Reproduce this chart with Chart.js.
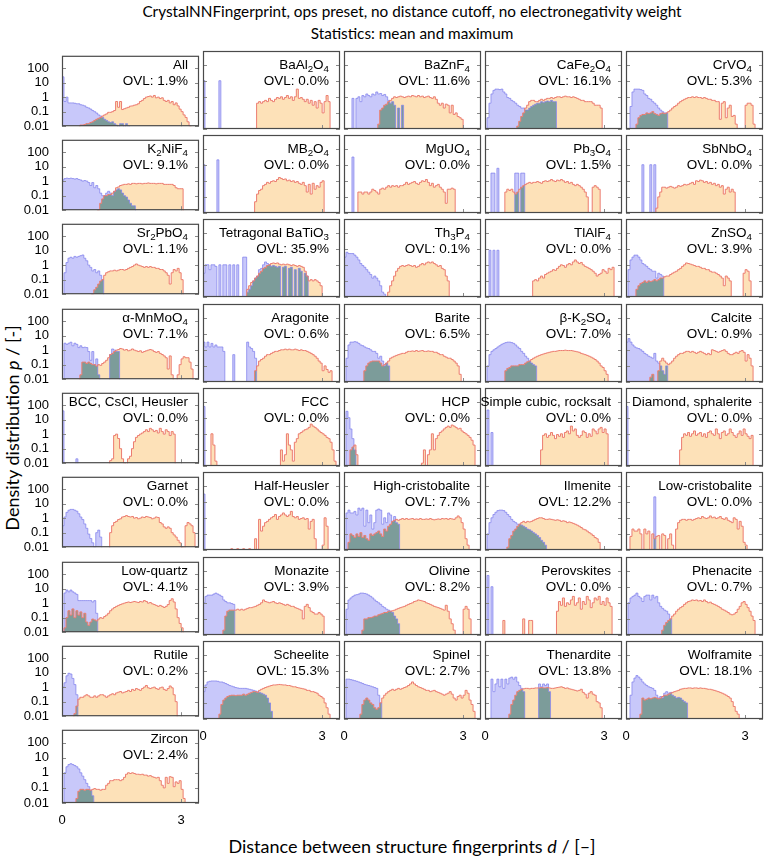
<!DOCTYPE html>
<html>
<head>
<meta charset="utf-8">
<script src="https://cdn.jsdelivr.net/npm/chart.js@4.4.1/dist/chart.umd.min.js"></script>
<style>
  body { margin: 0; background: #fff; }
  #page { position: relative; width: 765px; height: 856px; overflow: hidden; font-family: "Liberation Sans", Arial, sans-serif; }
  canvas { position: absolute; }
  .lbl { position: absolute; text-align: right; font-size: 13.5px; line-height: 16px; color: #000; white-space: nowrap; z-index: 5; }
  .lbl sub { font-size: 72%; vertical-align: -0.3em; line-height: 0; }
  #title1, #title2 { position: absolute; left: 412px; transform: translateX(-50%); white-space: nowrap; font-family: Lato, "Open Sans", sans-serif; font-size: 15.3px; color: #000; }
  #title1 { top: 2px; }
  #title2 { top: 24px; }
  #ylab { position: absolute; left: 12px; top: 428px; transform: translate(-50%, -50%) rotate(-90deg); white-space: nowrap; font-family: Lato, "Open Sans", sans-serif; font-size: 18px; }
  #xlab { position: absolute; left: 412px; top: 835px; transform: translateX(-50%); white-space: nowrap; font-family: Lato, "Open Sans", sans-serif; font-size: 18px; }
</style>
</head>
<body>
<div id="page">
  <div id="title1">CrystalNNFingerprint, ops preset, no distance cutoff, no electronegativity weight</div>
  <div id="title2">Statistics: mean and maximum</div>
  <div id="ylab">Density distribution <i>p</i> / [-]</div>
  <div id="xlab">Distance between structure fingerprints <i>d</i> / [–]</div>
</div>
<script>
// histogram bins are 0.05 wide, each series = start bin + values
const binWidth = 0.05;
const xMax = 3.45;
const yMin = 0.01;
const yMax = 700;
const xTicks = [0, 3];
const yTicks = [0.01, 0.1, 1, 10, 100];

const panelNames = [
  'All', 'BaAl<sub>2</sub>O<sub>4</sub>', 'BaZnF<sub>4</sub>', 'CaFe<sub>2</sub>O<sub>4</sub>', 'CrVO<sub>4</sub>',
  'K<sub>2</sub>NiF<sub>4</sub>', 'MB<sub>2</sub>O<sub>4</sub>', 'MgUO<sub>4</sub>', 'Pb<sub>3</sub>O<sub>4</sub>', 'SbNbO<sub>4</sub>',
  'Sr<sub>2</sub>PbO<sub>4</sub>', 'Tetragonal BaTiO<sub>3</sub>', 'Th<sub>3</sub>P<sub>4</sub>', 'TlAlF<sub>4</sub>', 'ZnSO<sub>4</sub>',
  'α-MnMoO<sub>4</sub>', 'Aragonite', 'Barite', 'β-K<sub>2</sub>SO<sub>4</sub>', 'Calcite',
  'BCC, CsCl, Heusler', 'FCC', 'HCP', 'Simple cubic, rocksalt', 'Diamond, sphalerite',
  'Garnet', 'Half-Heusler', 'High-cristobalite', 'Ilmenite', 'Low-cristobalite',
  'Low-quartz', 'Monazite', 'Olivine', 'Perovskites', 'Phenacite',
  'Rutile', 'Scheelite', 'Spinel', 'Thenardite', 'Wolframite',
  'Zircon'
];
const ovl = [1.9, 0.0, 11.6, 16.1, 5.3, 9.1, 0.0, 0.0, 1.5, 0.0,
  1.1, 35.9, 0.1, 0.0, 3.9, 7.1, 0.6, 6.5, 7.0, 0.9,
  0.0, 0.0, 0.0, 0.0, 0.0, 0.0, 0.0, 7.7, 12.2, 0.0,
  4.1, 3.9, 8.2, 0.0, 0.7, 0.2, 15.3, 2.7, 13.8, 18.1, 2.4];

const blueStart = [0, 0, 4, 1, 2, 0, 0, 4, 3, 8,
  1, 0, 0, 2, 1, 1, 0, 1, 1, 0,
  0, 0, 1, 1, 0, 0, 0, 1, 1, 14,
  1, 0, 1, 1, 1, 0, 0, 1, 3, 2, 1];
const orangeStart = [9, 27, 17, 16, 5, 18, 26, 7, 10, 15,
  15, 21, 21, 24, 4, 9, 26, 9, 10, 12,
  24, 4, 3, 28, 27, 24, 14, 2, 11, 2,
  1, 10, 9, 9, 17, 6, 8, 8, 12, 7, 7];

const bAll = [25, 0.5, 1.0, 0.4, 0.4, 0.4, 0.38, 0.35, 0.35, 0.3, 0.28, 0.25, 0.2, 0.18, 0.15, 0.12, 0.1, 0.08, 0.06, 0.05, 0.04, 0.03, 0.025, 0.02, 0.018, 0.02, 0.015, 0.012, 0, 0.015, 0.015, 0, 0.015, 0.01];
const oAll = [0.012, 0.012, 0.013, 0.015, 0.015, 0.018, 0.02, 0.025, 0.03, 0.035, 0.04, 0.05, 0.06, 0.07, 0.09, 0.09, 0.1, 0.12, 0.5, 0.2, 0.5, 0.14, 0.16, 0.18, 0.2, 0.24, 0.25, 0.28, 0.3, 0.35, 0.5, 0.6, 0.8, 1.0, 1.1, 1.2, 1.0, 1.3, 0.9, 1.0, 0.8, 0.9, 0.6, 0.5, 0.6, 0.4, 0.5, 0.3, 0.4, 0.25, 0.15, 0.1, 0.06, 0.04, 0.02, 0.01];
const bBaAl2O4 = [10, 0, 0, 0, 0, 0, 0, 0, 10];
const oBaAl2O4 = [0.4, 0.5, 0.4, 0.5, 0.6, 0.5, 0.8, 0.6, 0.5, 0.7, 0.9, 0.8, 1.0, 0.7, 0.9, 1.2, 0.8, 1.0, 0.6, 1.0, 3.0, 0.8, 0.9, 0.7, 0.5, 0.7, 0.4, 0.6, 0.3, 0.5, 0.2, 0.6, 0.4, 0.1, 0.5, 1.2, 0.5];
const bBaZnF4 = [0.8, 0, 0.8, 1.0, 0.5, 1.2, 1.0, 1.5, 1.2, 1.0, 1.5, 1.3, 2.0, 1.5, 1.6, 1.2, 1.4, 1.0, 0.6, 0.4, 0.5, 0.3, 0, 0.2, 0, 0.3];
const oBaZnF4 = [0.02, 0.15, 0.2, 0.3, 0.35, 0.5, 0.6, 0.8, 1.0, 0.9, 1.0, 1.1, 1.0, 0.9, 1.0, 1.1, 1.0, 1.2, 1.1, 1.0, 1.2, 1.0, 1.1, 0.9, 1.0, 1.1, 0.9, 0.8, 1.0, 0.7, 0.4, 0.3, 0.4, 0.2, 0.35, 0.3, 0.1, 0.3, 0.08, 0.1, 0.06, 0.05, 0.04];
const bCaFe2O4 = [0.05, 0.4, 1.5, 2.5, 3, 3, 2.8, 3, 2, 1.5, 0.9, 0.8, 0.6, 0.5, 0.4, 0.3, 0.25, 0.2, 0.2, 0.15, 0.15, 0.2, 0.25, 0.3, 0.35, 0.4, 0.4, 0.5, 0.45, 0.5, 0.55, 0.5, 0.6, 0.5, 0.5];
const oCaFe2O4 = [0.015, 0.03, 0.06, 0.1, 0.2, 0.3, 0.5, 0.6, 0.6, 0.5, 0.5, 0.6, 0.7, 0.6, 0.7, 0.8, 0.8, 0.9, 0.8, 0.9, 1.0, 1.0, 0.9, 1.0, 1.1, 1.0, 1.0, 0.9, 1.0, 0.9, 0.8, 0.7, 0.6, 0.6, 0.5, 0.5, 0.5, 0.5, 0.4, 0.3, 0.3, 0.3, 0.2, 0.01];
const bCrVO4 = [0.25, 2, 3, 3, 3, 2.8, 2.5, 1.5, 1.2, 0.8, 0.7, 0.5, 0.4, 0.3, 0.2, 0.15, 0.12, 0.1, 0.1];
const oCrVO4 = [0.02, 0.05, 0.07, 0.08, 0.08, 0.1, 0.09, 0.1, 0.12, 0.09, 0.08, 0.07, 0.09, 0.1, 0.09, 0.1, 0.12, 0.15, 0.2, 0.25, 0.3, 0.4, 0.5, 0.6, 0.7, 0.8, 0.9, 0.9, 1.0, 0.9, 1.0, 0.9, 0.9, 0.8, 0.9, 0.8, 0.7, 0.7, 0.6, 0.6, 0.5, 0.5, 0.04, 0.4, 0.5, 0.05, 0.2, 0.3, 0.06, 0.07, 0.02, 0, 0, 0, 0, 0.3, 0.4, 0.4, 0.3, 0.02];
const bK2NiF4 = [1.2, 1.5, 1.6, 1.5, 1.6, 1.5, 1.4, 1.5, 1.3, 1.2, 1.0, 1.1, 1.0, 0.8, 0.5, 0.8, 0.35, 0.5, 0.3, 0.15, 0.1, 0.1, 0.15, 0.2, 0.15, 0.1, 0.2, 0.25, 0.3, 0.25, 0.15, 0.1, 0.08, 0.05, 0.03, 0.02, 0.02];
const oK2NiF4 = [0.01, 0.03, 0.06, 0.1, 0.1, 0.12, 0.12, 0.15, 0.2, 0.35, 0.4, 0.5, 0.55, 0.6, 0.6, 0.65, 0.6, 0.7, 0.7, 0.65, 0.7, 0.7, 0.65, 0.7, 0.7, 0.75, 0.7, 0.7, 0.7, 0.65, 0.7, 0.7, 0.7, 0.6, 0.6, 0.6, 0.6, 0.6, 0.5, 0.35, 0.3, 0.3, 0.3];
const bMB2O4 = [10, 0, 0, 0, 0, 0, 0, 20];
const oMB2O4 = [0.05, 0.15, 0.25, 0.3, 0.5, 0.6, 0.8, 0.7, 0.9, 1.0, 0.9, 1.2, 1.6, 1.4, 1.2, 1.3, 1.0, 1.1, 0.9, 1.0, 0.8, 0.9, 0.7, 0.6, 0.8, 0.5, 0.2, 0.6, 0.15, 0.7, 0.3, 0.5, 0.4, 0.8, 1.0];
const bMgUO4 = [30];
const oMgUO4 = [0.2, 0.2, 0.15, 0.2, 0.2, 0.15, 0.2, 0.3, 0.25, 0.2, 0.15, 0.3, 0.35, 0.3, 0.4, 0.5, 0.4, 0.5, 0.45, 0.5, 0.4, 0.5, 0.5, 0.6, 0.8, 0.6, 0.7, 0.8, 0.9, 0.7, 0.6, 0.8, 1.0, 0.9, 1.2, 0.8, 0.5, 0.7, 0.4, 0.5, 0.6, 0.4, 0.3, 0.2, 0.04, 0.3, 0.3, 0.35, 0.3];
const bPb3O4 = [3, 3, 0, 6, 0, 0, 0, 0, 0, 0, 0, 0, 3, 3, 0, 3, 3];
const oPb3O4 = [0.2, 0.3, 0.25, 0.3, 0.2, 0.15, 0.2, 0.3, 0.4, 0.5, 0.6, 0.7, 0.8, 0.7, 0.8, 0.8, 0.9, 0.8, 0.7, 0.9, 1.0, 0.9, 1.0, 1.2, 1.0, 0.9, 1.1, 1.0, 1.2, 1.0, 0.8, 0.9, 0.7, 0.8, 0.6, 0.5, 0.6, 0.5, 0.4, 0.3, 0.2, 0.1, 0, 0, 0.4, 0.5, 0.4, 0.3];
const bSbNbO4 = [10, 0, 0, 0, 10, 0, 10];
const oSbNbO4 = [0.02, 0.1, 0.2, 0.4, 0.4, 0.35, 0.4, 0.45, 0.4, 0.35, 0.4, 0.5, 0.45, 0.5, 0.6, 0.55, 0.6, 0.7, 0.8, 0.6, 1.0, 0.9, 1.1, 1.0, 0.8, 0.9, 0.7, 0.8, 0.6, 0.7, 0.5, 0.6, 0.4, 0.5, 0.15, 0.3, 0.4, 0.2, 0.3, 0.2];
const bSr2PbO4 = [0.3, 1.5, 3, 3.5, 3, 4, 3.5, 4, 4.5, 5, 3, 2, 1, 0.7, 0.4, 0.5, 0.3, 0.4, 0.2, 0.1];
const oSr2PbO4 = [0.01, 0.02, 0.03, 0.05, 0.08, 0.1, 0.2, 0.3, 0.35, 0.4, 0.4, 0.45, 0.4, 0.45, 0.5, 0.5, 0.45, 0.5, 0.6, 0.7, 0.8, 1.0, 1.2, 1.0, 0.9, 0.8, 0.7, 0.8, 0.7, 0.8, 0.7, 0.7, 0.6, 0.6, 0.5, 0.5, 0.4, 0.3, 0.2, 0.05, 0.3, 0.5, 0.4, 0.6, 0.3, 0.1];
const bBaTiO3 = [0.3, 1, 1, 0.5, 1, 1, 0.8, 0, 1, 0, 1, 1, 0, 1, 0, 1, 0, 1, 0, 0, 3, 3, 0.02, 0.03, 0.05, 0.1, 0.15, 0.2, 0.5, 0.6, 1.0, 1.5, 1.2, 1.0, 0.8, 0.9, 0.8, 0.7, 0.8, 0, 0.7, 0.8, 0, 0.6, 0.7, 0, 0.5, 0, 0.6, 0.4, 0, 0.3, 0.2];
const oBaTiO3 = [0.01, 0.03, 0.05, 0.08, 0.1, 0.15, 0.2, 0.3, 0.4, 0.6, 0.7, 0.9, 1.0, 1.2, 1.3, 1.2, 1.3, 1.1, 1.0, 1.1, 1.0, 1.1, 1.0, 0.9, 1.0, 0.9, 0.8, 0.9, 0.8, 0.7, 0.4, 0.2, 0.1, 0.12, 0.1, 0.12, 0.1, 0.08, 0.05];
const bTh3P4 = [3, 6, 5, 5, 5, 4, 3, 2, 1.2, 0.9, 0.7, 0.5, 0.35, 0.25, 0.15, 0.2, 0.15, 0.1, 0.05, 0.02, 0.015, 0.01];
const oTh3P4 = [0.01, 0.02, 0.05, 0.1, 0.2, 0.4, 0.6, 0.8, 0.9, 0.8, 0.9, 1.0, 0.9, 0.8, 0.9, 0.7, 0.8, 1.0, 1.2, 1.0, 1.3, 1.5, 1.3, 1.5, 1.2, 1.0, 0.8, 0.9, 0.6, 0.5, 0.2, 0.1];
const bTlAlF4 = [8, 0, 8, 0, 8];
const oTlAlF4 = [0.1, 0.12, 0.1, 0.15, 0.2, 0.15, 0.25, 0.3, 0.35, 0.4, 0.5, 0.45, 0.6, 0.8, 1.0, 0.9, 0.7, 1.0, 1.2, 1.0, 1.5, 2.0, 1.5, 1.2, 1.4, 1.0, 0.8, 0.7, 0.6, 0.5, 0.4, 0.3, 0.2, 0.25, 0.3, 0.5, 0.4, 0.3, 0.6, 0.5, 0.7];
const bZnSO4 = [0.5, 2, 3, 4, 4, 3, 2, 1.2, 1, 0.8, 0.6, 0.5, 0.4, 0.4, 0.15, 0.3, 0.25, 0.2];
const oZnSO4 = [0.01, 0.03, 0.05, 0.07, 0.08, 0.1, 0.08, 0.1, 0.09, 0.1, 0.12, 0.1, 0.12, 0.15, 0.15, 0.18, 0.2, 0.2, 0.25, 0.3, 0.35, 0.4, 0.5, 0.6, 0.8, 1.0, 1.3, 1.2, 1.1, 1.0, 0.9, 0.8, 0.8, 0.7, 0.6, 0.6, 0.5, 0.5, 0.4, 0.35, 0.35, 0.3, 0.25, 0.2, 0.15, 0.05, 0.2, 0.15, 0.1, 0.01, 0, 0, 0, 0, 0, 0.3, 0.5, 0.4, 0.1];
const bMnMoO4 = [3, 2.5, 3, 3.5, 2, 3, 2.5, 1.5, 2, 1.5, 1.6, 1.5, 0.8, 0.2, 0.8, 0.1, 0.25, 0.02, 0, 0, 0, 0, 0, 0.5, 1.2, 1.0, 0.8, 0.8];
const oMnMoO4 = [0.02, 0.15, 0.15, 0.12, 0.15, 0.12, 0.1, 0.1, 0.08, 0.1, 0.09, 0.12, 0.15, 0.2, 0.3, 0.5, 0.6, 0.8, 1.0, 1.1, 1.3, 1.2, 1.0, 1.1, 0.9, 1.0, 1.2, 1.0, 0.9, 0.8, 0.9, 0.7, 0.8, 0.9, 1.0, 1.1, 1.0, 0.8, 0.7, 0.8, 0.6, 0.5, 0.4, 0.3, 0.05, 0.4, 0.02, 0, 0, 0.02, 0.1, 0.25, 0.35, 0.3, 0.3, 0.15, 0.05];
const bAragonite = [3, 1.5, 3, 1.5, 2.5, 1.5, 2, 1.5, 1.5, 1.5, 0.8, 0, 0, 0, 0, 0.5, 0, 0, 0, 0, 0, 0, 3, 1.5, 1.2, 0.8, 0.3];
const oAragonite = [0.05, 0.1, 0.2, 0.25, 0.3, 0.4, 0.5, 0.5, 0.6, 0.7, 0.8, 0.8, 0.9, 1.0, 1.0, 1.1, 1.0, 1.1, 1.0, 1.0, 1.1, 1.0, 0.9, 1.0, 0.9, 0.9, 0.8, 0.7, 0.6, 0.5, 0.4, 0.3, 0.2, 0.15, 0.05, 0.1, 0.06, 0.04, 0.05];
const bBarite = [0.3, 2, 3, 3, 3.2, 3, 2.5, 2, 1.8, 1.5, 1.3, 1.2, 1.0, 0.8, 0.8, 0.6, 0.3, 0.4, 0.2, 0.1, 0.15, 0.1];
const oBarite = [0.01, 0.05, 0.1, 0.15, 0.18, 0.2, 0.2, 0.2, 0.2, 0.15, 0.1, 0.12, 0.15, 0.2, 0.3, 0.35, 0.4, 0.45, 0.5, 0.55, 0.6, 0.6, 0.7, 0.8, 0.8, 0.85, 0.8, 0.9, 0.8, 0.85, 0.9, 0.8, 0.8, 0.85, 0.8, 0.8, 0.7, 0.7, 0.6, 0.5, 0.5, 0.4, 0.35, 0.3, 0.3, 0.25, 0.2, 0.15, 0.1, 0.03];
const bK2SO4 = [0.1, 0.5, 0.8, 1.0, 1.2, 1.5, 1.8, 2.2, 2.5, 2.8, 3, 3, 2.8, 2.5, 2, 1.5, 1.2, 0.8, 0.6, 0.4, 0.3, 0.2, 0.15, 0.12, 0.1];
const oK2SO4 = [0.05, 0.07, 0.08, 0.1, 0.1, 0.1, 0.1, 0.12, 0.12, 0.12, 0.15, 0.18, 0.2, 0.25, 0.3, 0.35, 0.4, 0.45, 0.5, 0.55, 0.6, 0.65, 0.7, 0.75, 0.8, 0.8, 0.85, 0.9, 0.9, 0.9, 0.95, 0.9, 0.9, 0.9, 0.85, 0.8, 0.75, 0.7, 0.6, 0.55, 0.5, 0.45, 0.4, 0.35, 0.3, 0.25, 0.2, 0.15, 0.1, 0.08, 0.05, 0.03];
const bCalcite = [3, 5, 3, 2, 1.5, 1.3, 1.2, 1.0, 0.8, 0.6, 0.5, 0.4, 0.35, 0.3, 0.6, 0.2, 0.15, 0.1, 0.05, 0.03, 0.1];
const oCalcite = [0.02, 0.03, 0.01, 0, 0.05, 0.2, 0.3, 0.2, 0.15, 0.12, 0.15, 0.2, 0.3, 0.4, 0.5, 0.6, 0.6, 0.7, 0.8, 0.8, 0.7, 0.8, 0.7, 0.6, 0.7, 0.8, 0.7, 0.6, 0.5, 0.6, 0.5, 1.0, 0.9, 0.8, 0.7, 0.8, 0.9, 1.0, 0.8, 0.6, 0.5, 0.5, 0.6, 0.7, 0.6, 0.8, 0.9, 0.7, 0.2, 0.5, 0.3, 0.1];
const bBCC = [40, 0, 0, 0, 0, 0, 0, 0.02];
const oBCC = [0.015, 0.02, 0.8, 1.0, 0.5, 0.1, 0.02, 0.01, 0, 0.02, 0.03, 0.1, 0.3, 0.6, 0.8, 1.0, 1.2, 1.5, 2.0, 1.5, 2.5, 2.0, 1.5, 1.8, 1.2, 2.5, 1.5, 1.0, 2.0, 1.5, 0.8, 1.5, 1.0];
const bFCC = [50];
const oFCC = [1.0, 0.2, 0.02, 0, 0, 0, 0, 0, 0, 0, 0, 0, 0, 0, 0, 0, 0, 0, 0, 0, 0, 0, 0, 0, 0, 0, 0, 0, 0, 0, 0, 0, 0, 0, 0,
  0.1, 0.02, 0.05, 1.0, 0.2, 0.1, 0.02, 0.3, 0.5, 1.0, 1.2, 1.5, 1.8, 2, 2.5, 4, 3, 2.5, 2, 1.5, 1.2, 1.0, 0.8, 0.6, 0.5, 0.3, 0.1, 0.02];
const bHCP = [25, 10, 2, 0.5, 0.1];
const oHCP = [0.1, 0.15, 0.2, 0.05, 0, 0, 0, 0, 0, 0, 0, 0, 0, 0, 0, 0, 0, 0, 0, 0, 0, 0, 0, 0, 0, 0, 0, 0, 0, 0, 0, 0, 0, 0, 0, 0,
  0.015, 0.1, 0.01, 0.05, 0.1, 1.0, 0.1, 0.5, 0.8, 1.2, 1.5, 2.0, 2.5, 3.0, 2.5, 3.5, 3.0, 2.5, 2.0, 2.2, 1.5, 1.2, 1.0, 0.8, 0.6, 0.4, 0.2];
const bSC = [30, 0, 1.2];
const oSC = [0.1, 0.8, 1.0, 0.6, 0.8, 1.2, 0.8, 0.5, 0.9, 0.7, 1.0, 0.6, 1.2, 1.5, 1.0, 3.0, 1.5, 2.0, 0.8, 0.6, 0.8, 1.5, 1.2, 0.6, 1.0, 0.7, 2.0, 1.5, 1.0, 2.0, 2.5, 1.2, 2.0, 1.0];
const bDiamond = [50];
const oDiamond = [0.1, 0.6, 1.0, 0.8, 1.2, 0.7, 1.0, 1.5, 0.8, 1.0, 1.2, 0.7, 1.0, 0.6, 1.2, 1.5, 1.0, 0.8, 2.0, 1.0, 0.5, 1.2, 1.5, 0.8, 1.0, 2.0, 1.2, 0.8, 0.6, 1.0, 1.5, 0.8, 2.0, 1.0, 0.7, 0.5, 0.8];
const bGarnet = [0.3, 1.2, 2.5, 3.5, 4, 4, 3.5, 3, 2, 1.2, 0.8, 0.4, 0.2, 0.08, 0.04, 0.02, 0.01, 0.1, 0.15, 0.05];
const oGarnet = [0.1, 0.3, 0.5, 0.6, 0.8, 0.9, 1.2, 1.3, 1.5, 1.3, 1.2, 1.3, 1.0, 1.1, 0.9, 1.0, 1.2, 1.1, 1.3, 1.2, 1.1, 0.9, 1.0, 1.2, 1.1, 0.5, 0.4, 0.25, 0.2, 0.25, 0.2, 0.1, 0.07, 0.05, 0.03, 0.02, 0.01, 0, 0.3, 0.5, 0.4, 0.3, 0.1];
const bHalfHeusler = [30];
const oHalfHeusler = [0.012, 0, 0, 0.012, 0, 0, 0.012, 0, 0, 0.012, 0, 0,
  0.05, 0.01, 0.8, 0.15, 0.3, 0.5, 0.6, 0.8, 1.0, 1.2, 1.6, 0.8, 1.2, 1.5, 2.0, 1.5, 1.2, 1.5, 2.5, 1.2, 1.0, 1.2, 0.8, 0.9, 1.0, 0.8, 0.9, 0.2, 0.6, 0.8, 0.05, 0.01, 0, 0, 0.02, 1.0, 0.3];
const bHighCrist = [2, 3, 2, 2, 2.5, 1.5, 4, 3, 4, 0.3, 3, 0.5, 1.5, 0.2, 0.5, 3, 3.5, 3, 0.4, 1.0, 0.5, 2, 1.5, 0.6, 1.2, 0.5, 0.4];
const oHighCrist = [0.03, 0.1, 0.08, 0.06, 0.1, 0.07, 0.12, 0.06, 0.08, 0.05, 0.04, 0.1, 0.08, 0.1, 0.12, 0.15, 0.1, 0.07, 0.2, 0.15, 0.3, 0.4, 0.6, 0.7, 0.8, 0.7, 0.8, 0.9, 0.8, 0.9, 0.8, 0.85, 0.9, 0.8, 0.85, 0.8, 0.9, 0.8, 0.8, 0.85, 0.8, 0.9, 0.8, 0.75, 0.8, 0.85, 0.8, 0.9, 0.85, 0.9, 0.8, 0.9, 0.85, 0.8, 1.0, 1.3, 1.0, 0.5, 0.2, 0.05, 0.02];
const bIlmenite = [0.1, 0.5, 1.0, 1.6, 2.2, 2.8, 3, 3, 2.8, 2.2, 1.6, 1.2, 0.8, 0.6, 0.5, 0.4, 0.4, 0.35, 0.3, 0.25, 0.2, 0.18, 0.15, 0.12, 0.1, 0.08, 0.06, 0.04, 0.03, 0.02];
const oIlmenite = [0.015, 0.05, 0.08, 0.15, 0.2, 0.3, 0.4, 0.5, 0.6, 0.5, 0.6, 0.55, 0.6, 0.7, 0.8, 0.9, 1.0, 1.0, 0.9, 0.8, 0.8, 0.85, 0.8, 0.75, 0.7, 0.75, 0.7, 0.6, 0.65, 0.6, 0.5, 0.55, 0.5, 0.45, 0.4, 0.35, 0.3, 0.25, 0.2, 0.18, 0.15, 0.12, 0.1, 0.08, 0.06, 0.05, 0.03];
const bLowCrist = [20];
const oLowCrist = [0.07, 0.2, 0.15, 0.15, 0.2, 0.1, 0.01, 0.2, 0.1, 0.15, 0.01, 0.1, 0.05, 0.07, 0.08, 0.01, 0.1, 0.08, 0.01, 0.05, 0.1, 0.02, 0.01, 0.2, 0.5, 0.7, 0.8, 0.8, 0.7, 0.8, 0.8, 0.7, 0.8, 0.9, 1.0, 0.9, 1.2, 1.0, 0.9, 1.0, 1.3, 1.0, 1.1, 0.9, 1.0, 1.2, 0.9, 0.8, 1.0, 0.7, 0.6, 0.5, 1.0, 0.8, 0.2, 0.6, 0.3, 0.03, 0.02];
const bLowQuartz = [5, 8, 6, 8, 6, 5, 4, 1.5, 1.5, 1.5, 1.5, 1.5, 1.5, 1.5, 1.2, 1.5, 0.2];
const oLowQuartz = [0.02, 0.1, 0.3, 0.15, 0.4, 0.1, 0.3, 0.15, 0.25, 0.1, 0.2, 0.05, 0.03, 0.05, 0.08, 0.07, 0.06, 0.08, 0.1, 0.09, 0.12, 0.15, 0.2, 0.3, 0.4, 0.5, 0.6, 0.7, 0.8, 0.9, 1.0, 1.1, 1.2, 1.1, 1.2, 1.3, 1.2, 1.1, 1.3, 1.2, 1.5, 1.3, 1.0, 1.1, 0.9, 0.8, 0.7, 0.6, 0.7, 0.6, 0.5, 0.6, 0.8, 1.5, 2.0, 1.2, 0.4, 0.1, 0.04, 0.02];
const bMonazite = [1.0, 2.5, 3, 3, 3, 3.5, 4, 3.5, 3, 2.5, 1.5, 1.2, 1.0, 1.0, 0.9, 0.8];
const oMonazite = [0.02, 0.15, 0.3, 0.35, 0.35, 0.35, 0.35, 0.4, 0.35, 0.4, 0.35, 0.4, 0.45, 0.5, 0.5, 0.55, 0.6, 0.7, 0.8, 1.0, 1.5, 1.2, 1.1, 1.0, 1.1, 1.2, 1.0, 0.9, 1.0, 0.9, 0.8, 0.7, 0.8, 0.7, 0.6, 0.6, 0.5, 0.45, 0.4, 0.35, 0.1, 0.6, 0.8, 0.5, 0.3, 0.25, 0.2, 0.2, 0.25, 0.2, 0.15];
const bOlivine = [0.4, 1.5, 2, 2.5, 3, 3.2, 3.5, 4, 4, 3.8, 3.5, 3, 2.5, 2, 1.5, 1.2, 1.0, 0.8, 0.6, 0.5, 0.4, 0.35, 0.3, 0.25, 0.15, 0.1, 0.05];
const oOlivine = [0.02, 0.1, 0.1, 0.12, 0.12, 0.13, 0.15, 0.15, 0.18, 0.2, 0.22, 0.25, 0.25, 0.3, 0.3, 0.32, 0.35, 0.4, 0.45, 0.5, 0.55, 0.6, 0.7, 0.8, 0.9, 1.0, 1.2, 1.3, 1.5, 1.4, 1.3, 1.2, 1.0, 0.9, 0.8, 0.7, 0.6, 0.55, 0.5, 0.45, 0.4, 0.35, 0.7, 0.3, 0.1, 0.05, 0.02, 0.01, 0, 0, 0, 0.4, 0.6, 0.4, 0.1];
const bPerovskites = [50, 0, 10];
const oPerovskites = [0.08, 0, 0, 0, 0, 0, 0, 0, 0, 0, 0.1, 0, 0, 0.08, 0.08, 0, 0, 0, 0, 0, 0, 0, 0, 0, 0, 0, 0,
  0.3, 1.2, 0.7, 2.0, 0.6, 1.0, 0.8, 1.5, 2.5, 0.7, 1.0, 2.0, 0.4, 1.2, 0.8, 2.5, 1.5, 0.5, 1.0, 2.0, 1.5, 2.5, 0.8, 1.2, 0.7, 2.0, 1.0, 0.6];
const bPhenacite = [1.0, 2, 2.5, 3, 4, 2.5, 2, 1.2, 2.5, 3, 3, 1.5, 3, 2, 2.5, 1.0, 0.6, 0.45, 0.35, 0.3, 0.2, 0.1];
const oPhenacite = [0.01, 0.02, 0.04, 0.06, 0.08, 0.1, 0.15, 0.2, 0.3, 0.4, 0.5, 0.6, 0.8, 1.0, 1.2, 1.3, 1.5, 1.4, 1.5, 1.3, 1.4, 1.2, 1.5, 1.2, 1.0, 1.1, 0.9, 0.8, 0.7, 0.6, 0.5, 0.4, 0.35, 0.3, 0.25, 0.2, 0.18, 0.2, 0.25, 0.4, 0.6, 1.0, 1.2, 0.8, 0.5, 0.3, 0.15, 0.08];
const bRutile = [1.0, 2, 6, 9, 8, 4, 1.5, 0.3];
const oRutile = [0.015, 0.05, 0.15, 0.2, 0.2, 0.25, 0.3, 0.25, 0.2, 0.2, 0.25, 0.2, 0.25, 0.3, 0.3, 0.25, 0.2, 0.25, 0.3, 0.35, 0.3, 0.4, 0.45, 0.5, 0.4, 0.45, 0.5, 0.6, 0.5, 0.7, 0.6, 0.8, 0.7, 0.6, 0.8, 1.0, 1.3, 0.9, 0.8, 0.9, 1.0, 0.8, 0.7, 0.9, 1.0, 0.7, 0.6, 0.8, 1.2, 0.9, 0.3, 0.1];
const bScheelite = [0.5, 1.3, 2, 2.2, 2.3, 2.3, 2.3, 2.2, 2.0, 2.0, 1.8, 1.6, 1.4, 1.2, 1.1, 1.0, 0.9, 0.85, 0.8, 0.8, 0.8, 0.8, 0.75, 0.7, 0.65, 0.6, 0.55, 0.5, 0.45, 0.4, 0.35, 0.3, 0.2, 0.1, 0.03];
const oScheelite = [0.02, 0.08, 0.15, 0.2, 0.25, 0.28, 0.3, 0.3, 0.28, 0.3, 0.3, 0.3, 0.35, 0.3, 0.35, 0.4, 0.45, 0.5, 0.5, 0.45, 0.6, 0.7, 0.8, 0.9, 1.0, 1.1, 1.2, 1.3, 1.3, 1.35, 1.4, 1.35, 1.3, 1.3, 1.2, 1.2, 1.1, 1.0, 1.0, 0.9, 0.85, 0.8, 0.75, 0.7, 0.6, 0.6, 0.5, 0.5, 0.45, 0.4, 0.3, 0.25, 0.2, 0.1, 0.05, 0.02];
const bSpinel = [3, 3, 2.8, 2.6, 2.4, 2.2, 2, 1.8, 1.6, 1.4, 1.3, 1.2, 1.1, 1.0, 0.9, 0.8, 0.3, 0.1];
const oSpinel = [0.02, 0.08, 0.15, 0.2, 0.15, 0.1, 0.08, 0.05, 0.04, 0.05, 0.1, 0.2, 0.3, 0.4, 0.5, 0.6, 0.7, 0.6, 0.7, 0.8, 0.7, 0.8, 0.9, 1.0, 1.2, 1.5, 2.0, 1.5, 1.2, 1.0, 0.9, 0.8, 0.7, 0.6, 0.6, 0.5, 0.55, 0.6, 0.5, 0.45, 0.4, 0.35, 0.3, 0.35, 0.4, 0.5, 0.35, 0.2, 0.15, 0.25, 0.3, 0.2, 0.3, 0.6, 0.4, 0.15, 0.08, 0.03];
const bThenardite = [3, 0.5, 1.5, 3, 1.0, 3, 0.8, 3, 1.5, 3.5, 4, 3, 4, 2, 1.2, 0.8, 0.5, 0, 0, 0, 0, 0, 0, 0, 1.5, 1.0, 1.5, 1.2, 1.5, 0.5];
const oThenardite = [0.02, 0.08, 0.15, 0.3, 0.5, 0.6, 0.7, 0.75, 0.8, 0.8, 0.75, 0.8, 0.8, 0.85, 0.85, 0.85, 0.9, 0.85, 0.85, 0.9, 0.85, 0.8, 0.8, 0.85, 0.9, 0.95, 1.0, 0.9, 0.8, 0.85, 0.75, 0.7, 0.65, 0.6, 0.55, 0.6, 0.7, 0.45, 0.35, 0.2, 0.4, 0.5, 0.35, 0.3, 0.12, 0.1, 0.05];
const bWolframite = [0.3, 2, 3.5, 5, 4, 3, 2, 1.5, 1.2, 1.0, 0.9, 0.8, 0.6, 0.3, 0.2, 0.25, 0.2, 0.4, 0.5, 0.4, 0.45, 0.3, 0.25, 0.2, 0.22, 0.2, 0.15, 0.12, 0.1];
const oWolframite = [0.02, 0.2, 0.15, 0.17, 0.2, 0.18, 0.2, 0.22, 0.2, 0.18, 0.2, 0.25, 0.3, 0.3, 0.35, 0.4, 0.45, 0.5, 0.55, 0.6, 0.7, 0.75, 0.8, 0.8, 0.85, 0.85, 0.8, 0.85, 0.85, 0.8, 0.85, 0.8, 0.8, 0.75, 0.7, 0.7, 0.65, 0.6, 0.55, 0.5, 0.45, 0.4, 0.35, 0.3, 0.25, 0.2, 0.12, 0.06, 0.03, 0.02];
const bZircon = [1.0, 2.5, 3.5, 4, 3.5, 3, 2.5, 1.8, 1.0, 0.6, 0.35, 0.2, 0.12, 0.07, 0.03];
const oZircon = [0.02, 0.06, 0.08, 0.08, 0.07, 0.08, 0.08, 0.07, 0.08, 0.09, 0.08, 0.08, 0.07, 0.08, 0.08, 0.15, 0.2, 0.3, 0.3, 0.35, 0.35, 0.35, 0.3, 0.35, 0.5, 0.8, 1.0, 0.9, 1.0, 0.9, 0.8, 0.8, 0.75, 0.8, 0.7, 0.7, 0.6, 0.65, 0.55, 0.5, 0.45, 0.5, 0.3, 0.15, 0.1, 0.5, 0.2, 0.55, 0.5, 0.12, 0.25, 0.2, 0.3, 0.08, 0.02];

const blueSeries = [bAll, bBaAl2O4, bBaZnF4, bCaFe2O4, bCrVO4, bK2NiF4, bMB2O4, bMgUO4, bPb3O4, bSbNbO4,
  bSr2PbO4, bBaTiO3, bTh3P4, bTlAlF4, bZnSO4, bMnMoO4, bAragonite, bBarite, bK2SO4, bCalcite,
  bBCC, bFCC, bHCP, bSC, bDiamond, bGarnet, bHalfHeusler, bHighCrist, bIlmenite, bLowCrist,
  bLowQuartz, bMonazite, bOlivine, bPerovskites, bPhenacite, bRutile, bScheelite, bSpinel, bThenardite, bWolframite, bZircon];
const orangeSeries = [oAll, oBaAl2O4, oBaZnF4, oCaFe2O4, oCrVO4, oK2NiF4, oMB2O4, oMgUO4, oPb3O4, oSbNbO4,
  oSr2PbO4, oBaTiO3, oTh3P4, oTlAlF4, oZnSO4, oMnMoO4, oAragonite, oBarite, oK2SO4, oCalcite,
  oBCC, oFCC, oHCP, oSC, oDiamond, oGarnet, oHalfHeusler, oHighCrist, oIlmenite, oLowCrist,
  oLowQuartz, oMonazite, oOlivine, oPerovskites, oPhenacite, oRutile, oScheelite, oSpinel, oThenardite, oWolframite, oZircon];

const floorValue = 1e-4; // empty bins, below the axis minimum

function toSteps(start, vals) {
  if (!vals.length) return [];
  const pts = [{ x: start * binWidth, y: floorValue }];
  vals.forEach((v, i) => pts.push({ x: (start + i) * binWidth, y: v > 0 ? v : floorValue }));
  pts.push({ x: (start + vals.length) * binWidth, y: floorValue });
  return pts;
}

function overlap(bs, b, os, o) {
  const s = Math.max(bs, os), e = Math.min(bs + b.length, os + o.length);
  const vals = [];
  for (let i = s; i < e; i++) vals.push(Math.min(b[i - bs], o[i - os]));
  return { start: s, vals: vals };
}

const framePlugin = {
  id: 'frame',
  afterDatasetsDraw(chart) {
    const { ctx, chartArea: a, scales } = chart;
    ctx.save();
    ctx.strokeStyle = '#8a8a8a';
    ctx.lineWidth = 1;
    ctx.beginPath();
    yTicks.forEach(v => {
      const py = Math.round(scales.y.getPixelForValue(v)) + 0.5;
      ctx.moveTo(a.left, py); ctx.lineTo(a.left + 4, py);
      ctx.moveTo(a.right, py); ctx.lineTo(a.right - 4, py);
    });
    xTicks.forEach(v => {
      const px = Math.round(scales.x.getPixelForValue(v)) + 0.5;
      ctx.moveTo(px, a.bottom); ctx.lineTo(px, a.bottom - 4);
    });
    ctx.stroke();
    ctx.strokeStyle = '#4a4a4a';
    ctx.lineWidth = 1.2;
    ctx.strokeRect(a.left + 0.5, a.top + 0.5, a.width - 1, a.height - 1);
    ctx.restore();
  }
};

const page = document.getElementById('page');
const cols = 5, plotW = 137, plotH = 78, colStep = 141, rowStep = 84.3, left0 = 62, top0 = 50.7;
const blueFill = 'rgb(200,200,250)', blueLine = 'rgba(130,130,236,0.75)';
const orangeFill = 'rgb(253,225,184)', orangeLine = 'rgb(236,124,112)';
const tealFill = 'rgb(124,156,154)';
const tickFont = { family: '"Liberation Sans", Arial, sans-serif', size: 13 };

panelNames.forEach((name, i) => {
  const r = Math.floor(i / cols), c = i % cols;
  const plotLeft = Math.round(left0 + c * colStep);
  const plotTop = Math.round(top0 + r * rowStep);
  const showY = c === 0;
  const showX = i + cols >= panelNames.length;
  const L = showY ? 44 : 8, T = 8, R = 8, B = showX ? 22 : 10;

  const cv = document.createElement('canvas');
  cv.width = L + plotW + R;
  cv.height = T + plotH + B;
  cv.style.left = (plotLeft - L) + 'px';
  cv.style.top = (plotTop - T) + 'px';
  page.appendChild(cv);

  const bs = blueStart[i], b = blueSeries[i];
  const os = orangeStart[i], o = orangeSeries[i];
  const ov = overlap(bs, b, os, o);
  const base = { stepped: true, pointRadius: 0, tension: 0, fill: 'start', borderWidth: 1 };

  new Chart(cv, {
    type: 'line',
    data: {
      datasets: [
        { ...base, data: toSteps(ov.start, ov.vals), backgroundColor: tealFill, borderColor: 'rgba(0,0,0,0)', borderWidth: 0 },
        { ...base, data: toSteps(os, o), backgroundColor: orangeFill, borderColor: orangeLine },
        { ...base, data: toSteps(bs, b), backgroundColor: blueFill, borderColor: blueLine }
      ]
    },
    options: {
      responsive: false,
      animation: false,
      events: [],
      layout: { padding: { top: T, right: R, left: 0, bottom: 0 } },
      plugins: {
        legend: { display: false },
        tooltip: { enabled: false },
        filler: { drawTime: 'beforeDatasetsDraw' }
      },
      scales: {
        x: {
          type: 'linear', min: 0, max: xMax,
          grid: { display: false }, border: { display: false },
          afterBuildTicks: s => { s.ticks = xTicks.map(v => ({ value: v })); },
          afterFit: s => { s.height = B; },
          ticks: { display: showX, autoSkip: false, maxRotation: 0, padding: 2, color: '#000', font: tickFont, callback: v => String(v) }
        },
        y: {
          type: 'logarithmic', min: yMin, max: yMax,
          grid: { display: false }, border: { display: false },
          afterBuildTicks: s => { s.ticks = yTicks.map(v => ({ value: v })); },
          afterFit: s => { s.width = L; },
          ticks: { display: showY, autoSkip: false, padding: 5, color: '#000', font: tickFont, callback: v => String(v) }
        }
      }
    },
    plugins: [framePlugin]
  });

  const lbl = document.createElement('div');
  lbl.className = 'lbl';
  lbl.style.right = (765 - (plotLeft + plotW) + 11) + 'px';
  lbl.style.top = (plotTop + 5.6) + 'px';
  lbl.innerHTML = name + '<br>OVL: ' + ovl[i].toFixed(1) + '%';
  page.appendChild(lbl);
});
</script>
</body>
</html>
